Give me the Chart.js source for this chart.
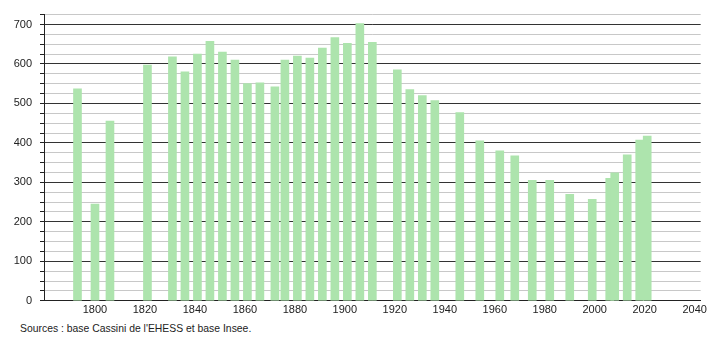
<!DOCTYPE html>
<html>
<head>
<meta charset="utf-8">
<script src="https://cdn.jsdelivr.net/npm/chart.js"></script>
<style>
  body { margin: 0; background: #fff; }
  #wrap { position: relative; width: 710px; height: 340px; }
  #source { position: absolute; left: 20px; top: 323px; font: 10.4px "Liberation Sans", Arial, sans-serif; color: #222; }
</style>
</head>
<body>
<div id="wrap">
  <canvas id="c" width="710" height="320"></canvas>
  <div id="source">Sources : base Cassini de l'EHESS et base Insee.</div>
</div>
<script>
// census years and population
var years = [1793, 1800, 1806, 1821, 1831, 1836, 1841, 1846, 1851, 1856,
             1861, 1866, 1872, 1876, 1881, 1886, 1891, 1896, 1901, 1906,
             1911, 1921, 1926, 1931, 1936, 1946, 1954, 1962, 1968, 1975,
             1982, 1990, 1999, 2006, 2008, 2013, 2018, 2021];
var population = [537, 245, 455, 597, 618, 580, 625, 657, 630, 610,
                  550, 552, 542, 610, 620, 615, 640, 667, 652, 702,
                  655, 585, 535, 520, 507, 477, 405, 380, 367, 305,
                  305, 270, 257, 310, 324, 370, 407, 417];
var xTicks = [1800, 1820, 1840, 1860, 1880, 1900, 1920, 1940, 1960, 1980, 2000, 2020, 2040];

var points = years.map(function (y, i) { return { x: y, y: population[i] }; });

var ctx = document.getElementById('c').getContext('2d');
new Chart(ctx, {
    type: 'bar',
    data: {
        datasets: [{
            data: points,
            backgroundColor: '#ade4ad',
            barThickness: 8,
            borderWidth: 0
        }]
    },
    options: {
        responsive: false,
        animation: false,
        layout: { padding: { left: 0, right: 9, top: 2, bottom: 0 } },
        plugins: { legend: { display: false }, tooltip: { enabled: false } },
        scales: {
            x: {
                type: 'linear',
                offset: false,
                min: 1779.6,
                max: 2042.4,
                afterBuildTicks: function (axis) {
                    axis.ticks = xTicks.map(function (v) { return { value: v }; });
                },
                grid: { display: false, drawTicks: false, offset: false },
                border: { color: '#222', width: 1 },
                ticks: {
                    color: '#222',
                    font: { family: 'Liberation Sans', size: 11 },
                    padding: 3,
                    maxRotation: 0,
                    autoSkip: false,
                    callback: function (v) { return v; }
                }
            },
            y: {
                min: 0,
                max: 725,
                afterFit: function (axis) { axis.width = 44; },
                ticks: {
                    stepSize: 25,
                    color: '#222',
                    font: { family: 'Liberation Sans', size: 11 },
                    padding: 8,
                    autoSkip: false,
                    callback: function (v) { return v % 100 === 0 ? v : ''; }
                },
                grid: {
                    color: function (c) { return c.tick && c.tick.value % 100 === 0 ? '#333' : '#c8c8c8'; },
                    tickColor: '#222',
                    tickLength: 4
                },
                border: { color: '#222', width: 1 }
            }
        }
    }
});
</script>
</body>
</html>
